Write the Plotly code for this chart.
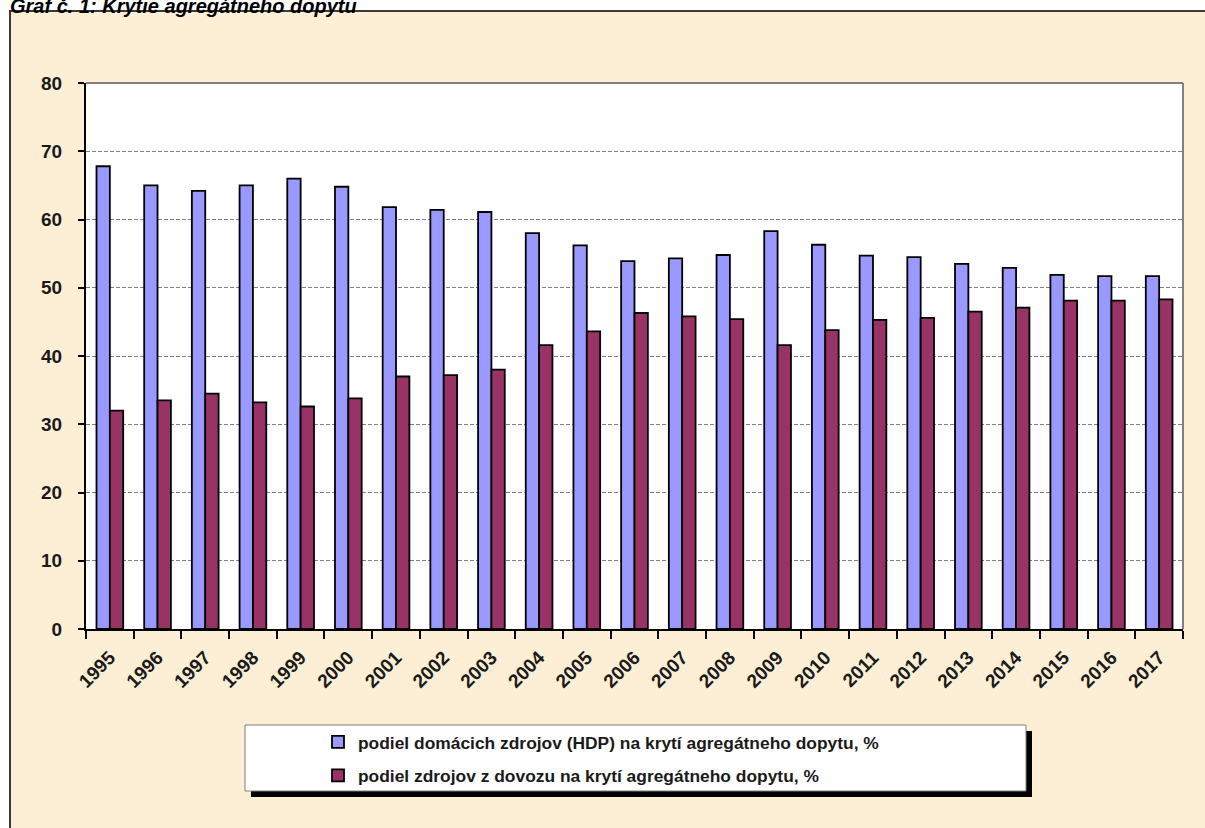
import plotly.graph_objects as go

years = [str(y) for y in range(1995, 2018)]
domestic = [67.8, 65.0, 64.2, 65.0, 66.0, 64.8, 61.8, 61.4, 61.1, 58.0, 56.2, 53.9,
            54.3, 54.8, 58.3, 56.3, 54.7, 54.5, 53.5, 52.9, 51.9, 51.7, 51.7]
imports = [32.0, 33.5, 34.5, 33.2, 32.6, 33.8, 37.0, 37.2, 38.0, 41.6, 43.6, 46.3,
           45.8, 45.4, 41.6, 43.8, 45.3, 45.6, 46.5, 47.1, 48.1, 48.1, 48.3]

name_dom = "podiel domácich zdrojov (HDP) na krytí agregátneho dopytu, %"
name_imp = "podiel zdrojov z dovozu na krytí agregátneho dopytu, %"
title = "Graf č. 1: Krytie agregátneho dopytu"

W, H = 1205, 828
L, R, T, B = 86, 22, 83, 199
pw, ph = W - L - R, H - T - B
FONT = "Liberation Sans, Arial, sans-serif"


def px(x):
    return (x - L) / pw


def py(y):
    return (H - B - y) / ph


fig = go.Figure()
fig.add_trace(go.Bar(
    x=years, y=domestic, name=name_dom, legendgroup="a",
    marker=dict(color="#9999FF", line=dict(color="#000000", width=1.8)),
))
fig.add_trace(go.Bar(
    x=years, y=imports, name=name_imp, legendgroup="b",
    marker=dict(color="#993366", line=dict(color="#000000", width=1.8)),
))

shapes = [
    # white page outside the beige frame
    dict(type="rect", xref="paper", yref="paper", x0=px(-5), x1=px(9), y0=py(840), y1=py(-5),
         fillcolor="white", line_width=0, layer="below"),
    dict(type="rect", xref="paper", yref="paper", x0=px(-5), x1=px(1215), y0=py(10), y1=py(-5),
         fillcolor="white", line_width=0, layer="below"),
    # frame border
    dict(type="rect", xref="paper", yref="paper", x0=px(10), x1=px(1220), y0=py(840), y1=py(11),
         line=dict(color="#3a3a3a", width=2), fillcolor="rgba(0,0,0,0)"),
    # plot area top/right border
    dict(type="line", xref="paper", yref="paper", x0=0, x1=1, y0=1, y1=1,
         line=dict(color="#808080", width=2)),
    dict(type="line", xref="paper", yref="paper", x0=1, x1=1, y0=0, y1=1,
         line=dict(color="#808080", width=2)),
    # legend shadow and box
    dict(type="rect", xref="paper", yref="paper", x0=px(251), x1=px(1032), y0=py(797), y1=py(731),
         fillcolor="#000000", line_width=0),
    dict(type="rect", xref="paper", yref="paper", x0=px(245), x1=px(1026), y0=py(791), y1=py(725),
         fillcolor="#ffffff", line=dict(color="#808080", width=1)),
]

fig.update_layout(
    width=W, height=H,
    margin=dict(l=L, r=R, t=T, b=B, pad=0),
    paper_bgcolor="#FCEFD5",
    plot_bgcolor="#FFFFFF",
    barmode="group",
    bargap=0.44,
    bargroupgap=0,
    font=dict(family=FONT, color="#1a1a1a"),
    shapes=shapes,
    showlegend=True,
    legend=dict(
        x=px(318), y=py(724), xanchor="left", yanchor="top",
        bgcolor="rgba(0,0,0,0)", borderwidth=0,
        traceorder="grouped", tracegroupgap=8,
        font=dict(family=FONT, size=17.4, color="#1a1a1a", weight="bold"),
        itemclick=False,
    ),
    xaxis=dict(
        type="category", tickangle=-45, tickson="boundaries",
        ticks="outside", ticklen=8, tickwidth=2, tickcolor="#000000",
        showline=True, linecolor="#000000", linewidth=2, showgrid=False,
        ticklabelstandoff=8,
        tickfont=dict(family=FONT, size=19, color="#1a1a1a", weight="bold"),
    ),
    yaxis=dict(
        range=[0, 80], dtick=10, tick0=0,
        ticks="outside", ticklen=6, tickwidth=2, tickcolor="#000000",
        showline=True, linecolor="#000000", linewidth=2,
        showgrid=True, gridcolor="#808080", griddash="4px,2px", gridwidth=1,
        zeroline=False, ticklabelstandoff=12,
        tickfont=dict(family=FONT, size=19, color="#1a1a1a", weight="bold"),
    ),
    annotations=[dict(
        text="<b><i>" + title + "</i></b>", xref="paper", yref="paper",
        x=px(8), y=py(19), xanchor="left", yanchor="bottom", showarrow=False,
        font=dict(family=FONT, size=20, color="#000000"),
    )],
)

fig.write_html("out.html", config={"displayModeBar": False},
               post_script="document.body.style.margin='0';")
